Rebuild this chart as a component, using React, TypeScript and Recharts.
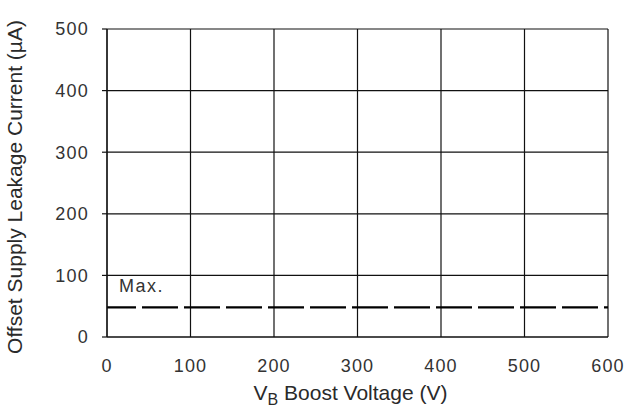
import React from "react";
import {
  LineChart,
  Line,
  XAxis,
  YAxis,
  CartesianGrid,
  ReferenceDot,
} from "recharts";

const boostVoltage = [0, 100, 200, 300, 400, 500, 600];
const maxLeakage = [48, 48, 48, 48, 48, 48, 48];
const xTicks = [0, 100, 200, 300, 400, 500, 600];
const yTicks = [0, 100, 200, 300, 400, 500];
const maxLabel = "Max.";
const yTitle = "Offset Supply Leakage Current (\u00B5A)";

const data = boostVoltage.map((v, i) => ({ v, max: maxLeakage[i] }));

const tickStyle = {
  fontFamily: "'Liberation Sans', Arial, sans-serif",
  fontSize: 18,
  fill: "#333",
  letterSpacing: 1.2,
};

const XTitle = (props: any) => {
  const vb = props.viewBox;
  const cx = vb.x + vb.width / 2 - 7;
  return (
    <text
      x={cx}
      y={vb.y + 63}
      textAnchor="middle"
      fontFamily="'Liberation Sans', Arial, sans-serif"
      fontSize={21}
      fill="#2a2a2a"
    >
      <tspan>V</tspan>
      <tspan fontSize={16} dy={5}>B</tspan>
      <tspan dy={-5}> Boost Voltage (V)</tspan>
    </text>
  );
};

const YTitle = (props: any) => {
  const vb = props.viewBox;
  const cy = vb.y + vb.height / 2 + 4;
  const x = 22;
  return (
    <text
      x={x}
      y={cy}
      transform={`rotate(-90 ${x} ${cy})`}
      textAnchor="middle"
      fontFamily="'Liberation Sans', Arial, sans-serif"
      fontSize={21}
      fill="#2a2a2a"
    >
      {yTitle}
    </text>
  );
};

const MaxLabel = (props: any) => {
  const vb = props.viewBox;
  return (
    <text
      x={vb.x + 12}
      y={vb.y - 15}
      fontFamily="'Liberation Sans', Arial, sans-serif"
      fontSize={18}
      letterSpacing={1.5}
      fill="#333"
    >
      {maxLabel}
    </text>
  );
};

export default function App() {
  return (
    <div style={{ position: "absolute", left: 0, top: 0, width: 642, height: 409, background: "#fff" }}>
      <LineChart
        width={642}
        height={409}
        data={data}
        margin={{ top: 29, right: 34, left: 0, bottom: 0 }}
      >
        <CartesianGrid stroke="#111" strokeWidth={1.2} />
        <XAxis
          dataKey="v"
          type="number"
          domain={[0, 600]}
          ticks={xTicks}
          height={72}
          tickSize={0}
          tickMargin={22}
          tickLine={false}
          axisLine={{ stroke: "#111", strokeWidth: 1.2 }}
          tick={tickStyle}
          interval={0}
          label={{ content: XTitle }}
        />
        <YAxis
          type="number"
          domain={[0, 500]}
          ticks={yTicks}
          width={107}
          tickSize={5}
          tickMargin={13}
          tickLine={{ stroke: "#111", strokeWidth: 1.2 }}
          axisLine={{ stroke: "#111", strokeWidth: 1.2 }}
          tick={tickStyle}
          interval={0}
          label={{ content: YTitle }}
        />
        <Line
          dataKey="max"
          stroke="#000"
          strokeWidth={2.3}
          strokeDasharray="36 6"
          strokeDashoffset={7}
          dot={false}
          activeDot={false}
          isAnimationActive={false}
        />
        <ReferenceDot
          x={0}
          y={48}
          r={0}
          fill="none"
          stroke="none"
          label={{ content: MaxLabel }}
        />
      </LineChart>
    </div>
  );
}
